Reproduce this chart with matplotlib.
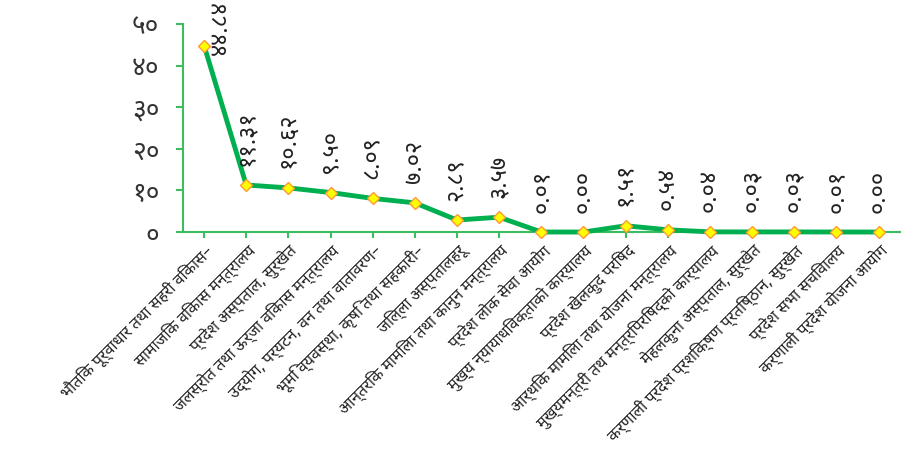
import matplotlib
matplotlib.use("Agg")
import matplotlib.pyplot as plt

plt.rcParams["font.family"] = ["Noto Sans Devanagari", "Mukta", "Hind", "Annapurna SIL", "DejaVu Sans"]

categories = [
    "भौतिक पूर्वाधार तथा सहरी विकास–",
    "सामाजिक विकास मन्त्रालय",
    "प्रदेश अस्पताल, सुर्खेत",
    "जलस्रोत तथा ऊर्जा विकास मन्त्रालय",
    "उद्योग, पर्यटन, वन तथा वातावरण–",
    "भूमि व्यवस्था, कृषि तथा सहकारी–",
    "जिल्ला अस्पतालहरू",
    "आन्तरिक मामिला तथा कानुन मन्त्रालय",
    "प्रदेश लोक सेवा आयोग",
    "मुख्य न्यायाधिवक्ताको कार्यालय",
    "प्रदेश खेलकुद परिषद",
    "आर्थिक मामिला तथा योजना मन्त्रालय",
    "मुख्यमन्त्री तथ मन्त्रिपरिषद्को कार्यालय",
    "मेहलकुना अस्पताल, सुर्खेत",
    "कर्णाली प्रदेश प्रशिक्षण प्रतिष्ठान, सुर्खेत",
    "प्रदेश सभा सचिवालय",
    "कर्णाली प्रदेश योजना आयोग",
]
values = [44.84, 11.31, 10.62, 9.50, 8.09, 7.02, 2.89, 3.57, 0.01, 0.00,
          1.51, 0.54, 0.04, 0.03, 0.03, 0.01, 0.00]
y_ticks = [0, 10, 20, 30, 40, 50]

DEV = str.maketrans("0123456789", "०१२३४५६७८९")


def dev(s):
    return s.translate(DEV)


axis_green = "#3dbb5f"

fig = plt.figure(figsize=(9.06, 4.55), dpi=100)
ax = fig.add_axes([0.202, 0.490, 0.791, 0.457])

x = range(len(values))
ax.plot(x, values, color="#00b050", linewidth=3.5, marker="D", markersize=6.5,
        markerfacecolor="#ffff00", markeredgecolor="#ff9933", markeredgewidth=1.0,
        zorder=3, clip_on=False)

for i, v in enumerate(values):
    label = dev(f"{v:.2f}")
    if i == 0:
        ax.annotate(label, (i, v), xytext=(12, 13), textcoords="offset points",
                    rotation=90, ha="center", va="center", fontsize=17, color="#222222")
    else:
        ax.annotate(label, (i, v), xytext=(0, 14), textcoords="offset points",
                    rotation=90, ha="center", va="bottom", fontsize=17, color="#222222")

ax.set_xlim(-0.5, len(values) - 0.5)
ax.set_ylim(0, 50)
ax.set_yticks(y_ticks, [dev(str(t)) for t in y_ticks], fontsize=19, color="#333333")
ax.set_xticks(list(x), categories, rotation=45, ha="right", rotation_mode="anchor",
              fontsize=11.5, color="#222222")

for side in ["top", "right"]:
    ax.spines[side].set_visible(False)
for side in ["left", "bottom"]:
    ax.spines[side].set_color(axis_green)
    ax.spines[side].set_linewidth(1.5)
ax.tick_params(axis="y", length=5, width=1.5, color=axis_green, pad=12)
ax.tick_params(axis="x", length=4, width=1.5, color=axis_green, pad=3)

fig.savefig("out.png", dpi=100)
